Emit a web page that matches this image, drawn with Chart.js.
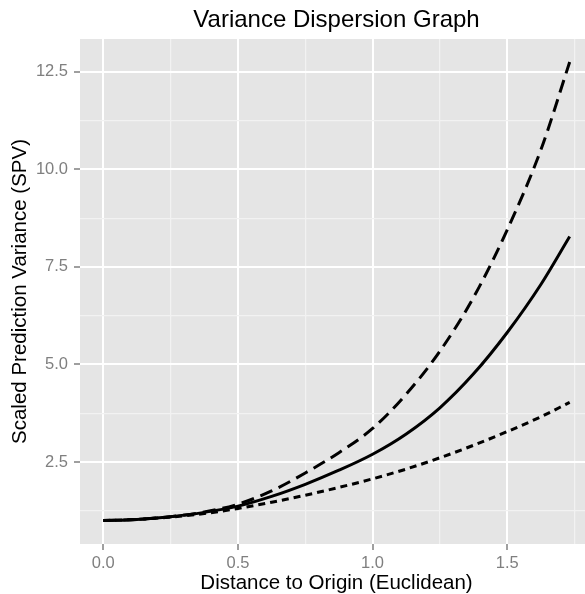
<!DOCTYPE html>
<html>
<head>
<meta charset="utf-8">
<script src="https://cdn.jsdelivr.net/npm/chart.js@4/dist/chart.umd.min.js"></script>
<style>
  html, body { margin: 0; padding: 0; overflow: hidden; background: #ffffff; }
  #wrap { width: 585px; height: 594px; overflow: hidden; }
  canvas { display: block; }
</style>
</head>
<body>
<div id="wrap"><canvas id="vdg" width="600" height="594"></canvas></div>
<script>
// Distance from the design centre (radius) at which SPV was evaluated
const distances = [0, 0.125, 0.25, 0.375, 0.5, 0.625, 0.75, 0.875, 1.0, 1.125, 1.25, 1.375, 1.5, 1.625, 1.732];

// Scaled prediction variance over the sphere of each radius
const spvMax    = [1.00, 1.03, 1.10, 1.22, 1.42, 1.76, 2.22, 2.74, 3.36, 4.24, 5.34, 6.72, 8.45, 10.50, 12.75];
const spvMedian = [1.00, 1.03, 1.10, 1.21, 1.37, 1.62, 1.93, 2.29, 2.70, 3.22, 3.89, 4.76, 5.82, 7.05, 8.28];
const spvMin    = [1.00, 1.03, 1.09, 1.18, 1.31, 1.47, 1.65, 1.85, 2.07, 2.32, 2.61, 2.93, 3.28, 3.66, 4.03];

// Axis ticks: labelled (major) and unlabelled (minor) grid positions
const xMajorTicks = [0, 0.5, 1.0, 1.5];
const xMinorTicks = [0.25, 0.75, 1.25, 1.75];
const yMajorTicks = [2.5, 5.0, 7.5, 10.0, 12.5];
const yMinorTicks = [1.25, 3.75, 6.25, 8.75, 11.25];

const FONT = '"Liberation Sans", Arial, Helvetica, sans-serif';
const TICK_GREY = '#7F7F7F';

const toPoints = ys => distances.map((x, i) => ({ x, y: ys[i] }));
const isMajor = (list, v) => list.some(m => Math.abs(m - v) < 1e-9);

const panelBackground = {
  id: 'panelBackground',
  beforeDraw(chart) {
    const { ctx, chartArea: a } = chart;
    ctx.save();
    ctx.fillStyle = '#FFFFFF';
    ctx.fillRect(0, 0, chart.width, chart.height);
    ctx.fillStyle = '#E5E5E5';
    ctx.fillRect(a.left, a.top, a.right - a.left, a.bottom - a.top);
    ctx.restore();
  }
};

function gridOptions(majors) {
  return {
    color: c => isMajor(majors, c.tick.value) ? '#FFFFFF' : '#F2F2F2',
    lineWidth: c => isMajor(majors, c.tick.value) ? 2 : 1.2,
    drawTicks: true,
    tickLength: 6,
    tickWidth: 1.5,
    tickColor: c => isMajor(majors, c.tick.value) ? TICK_GREY : 'rgba(0,0,0,0)'
  };
}

const lineStyle = {
  borderColor: '#000000',
  borderWidth: 3,
  pointRadius: 0,
  pointHoverRadius: 0,
  fill: false,
  cubicInterpolationMode: 'monotone'
};

new Chart(document.getElementById('vdg'), {
  type: 'line',
  data: {
    datasets: [
      Object.assign({ label: 'Max', data: toPoints(spvMax), borderDash: [13, 7] }, lineStyle),
      Object.assign({ label: 'Median', data: toPoints(spvMedian) }, lineStyle),
      Object.assign({ label: 'Min', data: toPoints(spvMin), borderDash: [7, 5] }, lineStyle)
    ]
  },
  options: {
    responsive: false,
    devicePixelRatio: 1,
    animation: false,
    events: [],
    layout: { padding: { left: 0, right: 7, top: 0, bottom: 0 } },
    plugins: {
      legend: { display: false },
      tooltip: { enabled: false },
      title: {
        display: true,
        text: 'Variance Dispersion Graph',
        fullSize: false,
        color: '#000000',
        font: { family: FONT, size: 24, weight: 'normal', lineHeight: 1.2 },
        padding: { top: 5.8, bottom: 4.4 }
      }
    },
    scales: {
      x: {
        type: 'linear',
        min: -0.0866,
        max: 1.8186,
        border: { display: false },
        grid: gridOptions(xMajorTicks),
        afterBuildTicks: s => {
          s.ticks = xMajorTicks.concat(xMinorTicks).sort((a, b) => a - b).map(v => ({ value: v }));
        },
        afterFit: s => { s.height = 50; },
        ticks: {
          autoSkip: false,
          maxRotation: 0,
          color: TICK_GREY,
          padding: 4,
          font: { family: FONT, size: 16.5 },
          callback: v => isMajor(xMajorTicks, v) ? v.toFixed(1) : ''
        },
        title: {
          display: true,
          text: 'Distance to Origin (Euclidean)',
          color: '#000000',
          font: { family: FONT, size: 20.5, lineHeight: 1.0 },
          padding: { top: 0, bottom: 0 }
        }
      },
      y: {
        type: 'linear',
        min: 0.40,
        max: 13.34,
        border: { display: false },
        grid: gridOptions(yMajorTicks),
        afterBuildTicks: s => {
          s.ticks = yMajorTicks.concat(yMinorTicks).sort((a, b) => a - b).map(v => ({ value: v }));
        },
        afterFit: s => { s.width = 80; },
        ticks: {
          autoSkip: false,
          color: TICK_GREY,
          padding: 6,
          font: { family: FONT, size: 16.5 },
          callback: v => isMajor(yMajorTicks, v) ? v.toFixed(1) : ''
        },
        title: {
          display: true,
          text: 'Scaled Prediction Variance (SPV)',
          color: '#000000',
          font: { family: FONT, size: 20.5, lineHeight: 1.2 },
          padding: { top: 8.5, bottom: 0 }
        }
      }
    }
  },
  plugins: [panelBackground]
});
</script>
</body>
</html>
